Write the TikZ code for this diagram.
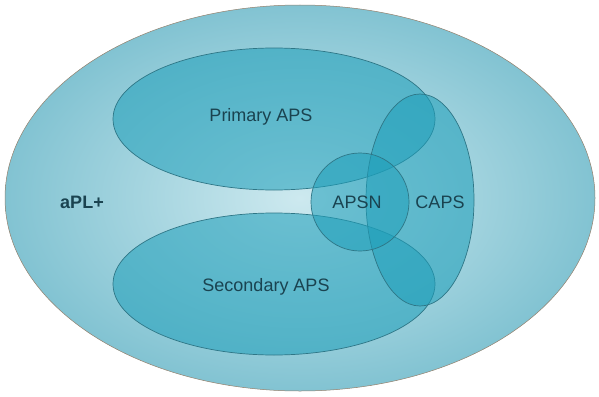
\documentclass[tikz,border=0pt]{standalone}
\usepackage{xcolor}
\usepackage{tikz}
\usepackage{fontspec}
\setmainfont{Liberation Sans}

\definecolor{outerteal}{HTML}{82C3D2}
\definecolor{innerteal}{HTML}{CDE9EF}
\definecolor{setteal}{HTML}{1E9FBA}
\definecolor{rimteal}{HTML}{2E7686}
\definecolor{labelteal}{HTML}{1A4350}

\tikzset{
  setfill/.style={fill=setteal, fill opacity=0.55, draw=rimteal, line width=0.7pt},
  setlabel/.style={text=labelteal, font=\fontsize{18}{20}\selectfont}
}

\begin{document}
\begin{tikzpicture}[x=1pt,y=-1pt]
                \useasboundingbox (0,0) rectangle (599,396);
                \shade[inner color=innerteal, outer color=outerteal, draw=gray!70!brown, line width=0.5pt] (300,198) ellipse (295 and 193);
                \filldraw[setfill] (274,119) ellipse (161 and 71);
                \filldraw[setfill] (274,284) ellipse (161 and 71);
                \filldraw[setfill] (420,200) ellipse (54 and 106);
                \filldraw[setfill] (360,202) circle (49);
                \node[setlabel, font=\fontsize{18}{20}\selectfont\bfseries] (aplus) at (82,202) {aPL+};
                \node[setlabel] (primary) at (261,117) {Primary APS};
                \node[setlabel] (secondary) at (266,287) {Secondary APS};
                \node[setlabel] (apsn) at (357,202) {APSN};
                \node[setlabel] (caps) at (440,202) {CAPS};
            \end{tikzpicture}
\end{document}
